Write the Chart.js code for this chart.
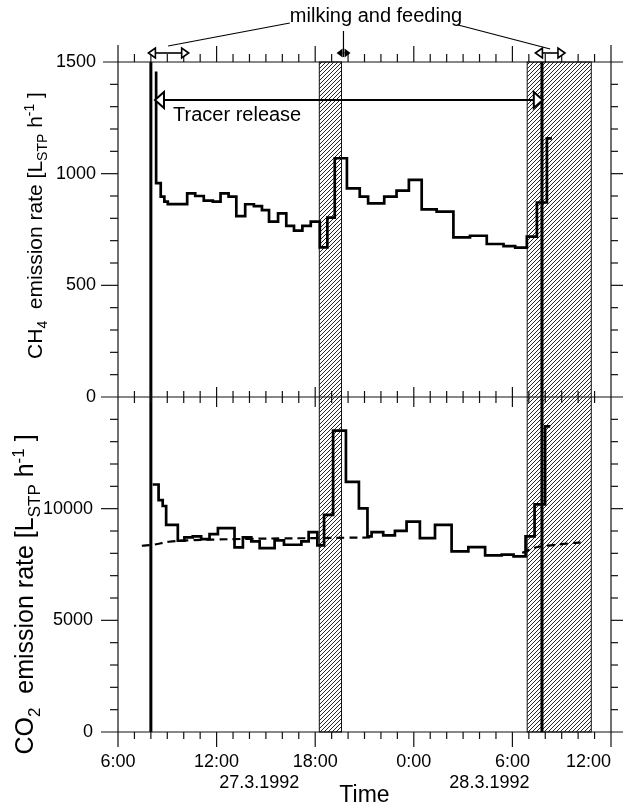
<!DOCTYPE html>
<html>
<head>
<meta charset="utf-8">
<script src="https://cdn.jsdelivr.net/npm/chart.js@4.4.1/dist/chart.umd.min.js"></script>
<style>
  html, body { margin: 0; padding: 0; background: #fff; }
</style>
</head>
<body>
<canvas id="myChart" width="626" height="809"></canvas>
<script>
// Temps en heures depuis 0:00 le 27.3.1992 (24 = minuit, 30 = 6:00 le 28.3)
const ch4Times  = [8.32, 8.32, 8.6, 8.82, 9.03, 10.21, 10.7, 11.22, 11.77, 12.24, 12.73, 13.2, 13.74, 14.27, 14.76, 15.19, 15.74, 16.24, 16.71, 17.22, 17.73, 18.28, 18.74, 19.19, 19.93, 20.71, 21.22, 22.2, 22.95, 23.7, 24.48, 25.39, 26.41, 27.42, 28.44, 29.46, 30.17, 30.88, 31.49, 32.1, 32.4];
const ch4Values = [1457, 958, 897, 875, 864, 912, 900, 879, 875, 912, 897, 810, 863, 855, 837, 785, 822, 766, 745, 766, 785, 670, 803, 1069, 934, 897, 867, 897, 924, 972, 840, 830, 715, 722, 685, 676, 669, 718, 871, 1158, 1158];

const co2Times  = [8.11, 8.47, 8.72, 8.93, 9.64, 10.04, 10.55, 11.06, 11.57, 12.08, 13.09, 13.6, 14.11, 14.62, 15.53, 16.1, 17.16, 17.6, 18.13, 18.54, 19.09, 19.87, 20.66, 21.18, 21.43, 22.14, 22.85, 23.56, 24.37, 25.29, 26.3, 27.32, 28.34, 29.35, 30.07, 30.8, 31.35, 31.99, 32.3];
const co2Values = [11081, 10385, 10119, 9274, 8563, 8711, 8756, 8637, 8859, 9126, 8267, 8711, 8533, 8237, 8578, 8385, 8533, 8948, 8356, 9719, 13496, 11200, 10015, 8756, 8948, 8800, 9007, 9422, 8681, 9274, 8089, 8281, 7911, 7941, 7867, 8756, 10193, 13689, 13689];

// courbe ajustée (tirets), null = coupure
const fitTimes  = [7.45, 8.2, 9.1, 10.5, 12, 14, 16, 18, 20, 21.5, 26, 30.6, 31.4, 32.5, 33.5, 34.4];
const fitValues = [8340, 8390, 8520, 8590, 8620, 8650, 8670, 8680, 8700, 8710, null, 8020, 8260, 8370, 8450, 8500];

// périodes hachurées, traite et alimentation, traceur
const hatchPeriods  = [[18.25, 19.6], [30.9, 34.8]];
const milkingArrows = [[7.85, 10.3], [19.3, 20.15], [31.4, 33.2]];
const milkingLabelTime = 21.7;
const tracerLines = [8.0, 31.8];
const tracerArrow = [8.25, 31.85];
const tracerLabelTime = 9.35;

// étiquettes de l'axe du temps
const timeTicks  = [6, 12, 18, 24, 30, 36];
const timeLabels = ['6:00', '12:00', '18:00', '0:00', '6:00', '12:00'];
const dateTimes  = [14.6, 28.6];
const dateLabels = ['27.3.1992', '28.3.1992'];

const FONT = '"Liberation Sans", Arial, Helvetica, sans-serif';

// motif de hachures "////"
const hachure = (() => {
    const c = document.createElement('canvas');
    c.width = 4; c.height = 4;
    const g = c.getContext('2d');
    g.strokeStyle = '#000';
    g.lineWidth = 0.85;
    g.beginPath();
    g.moveTo(-1, 5); g.lineTo(5, -1);
    g.moveTo(-1, 1); g.lineTo(1, -1);
    g.moveTo(3, 5); g.lineTo(5, 3);
    g.stroke();
    return c;
})();

function ligne(ctx, x1, y1, x2, y2) {
    ctx.beginPath();
    ctx.moveTo(x1, y1);
    ctx.lineTo(x2, y2);
    ctx.stroke();
}

// pointe de flèche triangulaire, dir = -1 vers la gauche, 1 vers la droite
function pointe(ctx, tipX, y, dir, len, half, pleine) {
    ctx.beginPath();
    ctx.moveTo(tipX, y);
    ctx.lineTo(tipX - dir * len, y - half);
    ctx.lineTo(tipX - dir * len, y + half);
    ctx.closePath();
    if (pleine) {
        ctx.fillStyle = '#000';
        ctx.fill();
    } else {
        ctx.fillStyle = '#fff';
        ctx.fill();
        ctx.stroke();
    }
}

function doubleFleche(ctx, x1, x2, y, len, half, pleine, lw) {
    ctx.lineWidth = lw;
    ligne(ctx, x1 + len, y, x2 - len, y);
    pointe(ctx, x1, y, -1, len, half, pleine);
    pointe(ctx, x2, y, 1, len, half, pleine);
}

// texte vertical avec indices / exposants
function texteVertical(ctx, parts, size, cx, cy) {
    ctx.save();
    ctx.translate(cx, cy);
    ctx.rotate(-Math.PI / 2);
    ctx.textAlign = 'left';
    ctx.textBaseline = 'alphabetic';
    let total = 0;
    parts.forEach(p => {
        ctx.font = `${p.s ? Math.round(size * 0.68) : size}px ${FONT}`;
        p.w = ctx.measureText(p.t).width;
        total += p.w;
    });
    let pos = -total / 2;
    parts.forEach(p => {
        ctx.font = `${p.s ? Math.round(size * 0.68) : size}px ${FONT}`;
        const dy = p.s === 'sub' ? size * 0.28 : p.s === 'sup' ? -size * 0.38 : 0;
        ctx.fillText(p.t, pos, size * 0.36 + dy);
        pos += p.w;
    });
    ctx.restore();
}

const cadrePlugin = {
    id: 'cadre',
    beforeDatasetsDraw(chart) {
        const {ctx, chartArea: a, scales: {x}} = chart;
        ctx.save();
        const pat = ctx.createPattern(hachure, 'repeat');
        hatchPeriods.forEach(([t0, t1]) => {
            const x0 = x.getPixelForValue(t0);
            const x1 = x.getPixelForValue(t1);
            ctx.fillStyle = pat;
            ctx.fillRect(x0, a.top, x1 - x0, a.bottom - a.top);
            ctx.strokeStyle = '#111';
            ctx.lineWidth = 1;
            ctx.strokeRect(x0, a.top, x1 - x0, a.bottom - a.top);
        });
        // début et fin du lâcher de traceur
        ctx.strokeStyle = '#000';
        ctx.lineWidth = 3;
        tracerLines.forEach(t => {
            const px = x.getPixelForValue(t);
            ligne(ctx, px, a.top, px, a.bottom);
        });
        ctx.restore();
    },
    afterDraw(chart) {
        const {ctx, chartArea: a, scales: {x, yCH4, yCO2}} = chart;
        const mid = yCH4.bottom;
        ctx.save();
        ctx.strokeStyle = '#111';
        ctx.lineWidth = 1.2;

        // cadre, axes prolongés comme dans l'original
        ligne(ctx, a.left - 15, a.top, a.right + 12, a.top);
        ligne(ctx, a.left - 17, mid, a.right + 12, mid);
        ligne(ctx, a.left - 17, a.bottom, a.right + 12, a.bottom);
        ligne(ctx, a.left, a.top - 17, a.left, a.bottom + 15);
        ligne(ctx, a.right, a.top - 17, a.right, a.bottom + 15);

        // graduations du temps (chaque heure)
        for (let h = 7; h < 36; h++) {
            const px = x.getPixelForValue(h);
            const major = h % 6 === 0;
            ligne(ctx, px, a.top, px, a.top - (major ? 16 : 8));
            ligne(ctx, px, mid - (major ? 10 : 6), px, mid + (major ? 10 : 6));
            ligne(ctx, px, a.bottom, px, a.bottom + (major ? 15 : 7));
        }
        // graduations CH4 (100) et CO2 (1000)
        for (let v = 100; v < 1500; v += 100) {
            const py = yCH4.getPixelForValue(v);
            const major = v % 500 === 0;
            ligne(ctx, a.left, py, a.left - (major ? 17 : 8), py);
            ligne(ctx, a.right, py, a.right + (major ? 12 : 7), py);
        }
        for (let v = 1000; v < 15000; v += 1000) {
            const py = yCO2.getPixelForValue(v);
            const major = v % 5000 === 0;
            ligne(ctx, a.left, py, a.left - (major ? 17 : 8), py);
            ligne(ctx, a.right, py, a.right + (major ? 12 : 7), py);
        }

        // étiquettes de l'axe du temps
        ctx.fillStyle = '#000';
        ctx.textBaseline = 'alphabetic';
        ctx.font = `18px ${FONT}`;
        timeTicks.forEach((t, i) => {
            ctx.textAlign = i === timeTicks.length - 1 ? 'right' : 'center';
            ctx.fillText(timeLabels[i], x.getPixelForValue(t), a.bottom + 35);
        });
        ctx.textAlign = 'center';
        dateTimes.forEach((t, i) => {
            ctx.fillText(dateLabels[i], x.getPixelForValue(t), a.bottom + 56);
        });

        // titres des axes y
        texteVertical(ctx, [
            {t: 'CH'}, {t: '4', s: 'sub'}, {t: '  emission rate [L'}, {t: 'STP', s: 'sub'},
            {t: ' h'}, {t: '-1', s: 'sup'}, {t: ' ]'}
        ], 21, 34, (yCH4.top + yCH4.bottom) / 2 - 4);
        texteVertical(ctx, [
            {t: 'CO'}, {t: '2', s: 'sub'}, {t: '  emission rate [L'}, {t: 'STP', s: 'sub'},
            {t: ' h'}, {t: '-1', s: 'sup'}, {t: ' ]'}
        ], 25, 24, (yCO2.top + yCO2.bottom) / 2 + 30);

        // traite et alimentation
        ctx.strokeStyle = '#000';
        const yM = a.top - 9;
        milkingArrows.forEach(([t0, t1], i) => {
            const pleine = i === 1;
            doubleFleche(ctx, x.getPixelForValue(t0), x.getPixelForValue(t1), yM,
                pleine ? 6 : 7, pleine ? 4.5 : 5, pleine, 1.6);
        });
        ctx.font = `20px ${FONT}`;
        ctx.textAlign = 'center';
        ctx.fillStyle = '#000';
        const xl = x.getPixelForValue(milkingLabelTime);
        ctx.fillText('milking and feeding', xl, a.top - 40);
        const w = ctx.measureText('milking and feeding').width;
        ctx.lineWidth = 1.2;
        ligne(ctx, xl - w / 2, a.top - 39, x.getPixelForValue(9.05), a.top - 16);
        ligne(ctx, x.getPixelForValue(19.72), a.top - 31, x.getPixelForValue(19.72), a.top - 5);
        ligne(ctx, xl + w / 2 - 4, a.top - 37, x.getPixelForValue(32.3), a.top - 13);

        // lâcher de traceur
        doubleFleche(ctx, x.getPixelForValue(tracerArrow[0]), x.getPixelForValue(tracerArrow[1]), a.top + 38, 9, 8, false, 2);
        ctx.font = `20px ${FONT}`;
        ctx.textAlign = 'left';
        ctx.fillStyle = '#000';
        ctx.fillText('Tracer release', x.getPixelForValue(tracerLabelTime), a.top + 59);
        ctx.restore();
    }
};

const points = (ts, vs) => ts.map((t, i) => ({x: t, y: vs[i]}));

const ctx = document.getElementById('myChart').getContext('2d');
const chart = new Chart(ctx, {
    type: 'line',
    data: {
        datasets: [
            {
                label: 'CH4',
                data: points(ch4Times, ch4Values),
                yAxisID: 'yCH4',
                stepped: 'before',
                borderColor: '#000',
                borderWidth: 2.7,
                pointRadius: 0,
                fill: false
            },
            {
                label: 'CO2',
                data: points(co2Times, co2Values),
                yAxisID: 'yCO2',
                stepped: 'before',
                borderColor: '#000',
                borderWidth: 2.7,
                pointRadius: 0,
                fill: false
            },
            {
                label: 'CO2 fit',
                data: points(fitTimes, fitValues),
                yAxisID: 'yCO2',
                borderColor: '#000',
                borderWidth: 2.2,
                borderDash: [8, 5],
                tension: 0.4,
                spanGaps: false,
                pointRadius: 0,
                fill: false
            }
        ]
    },
    options: {
        responsive: false,
        devicePixelRatio: 1,
        animation: false,
        layout: { padding: { top: 62, right: 15, bottom: 0, left: 0 } },
        plugins: {
            legend: { display: false },
            tooltip: { enabled: false }
        },
        scales: {
            x: {
                type: 'linear',
                min: 6,
                max: 36,
                position: 'bottom',
                ticks: { display: false, stepSize: 6 },
                grid: { display: false, drawTicks: false },
                border: { display: false },
                title: { display: true, text: 'Time', color: '#000', font: { family: FONT, size: 23 }, padding: 0 },
                afterFit: s => { s.height = 77; }
            },
            yCO2: {
                type: 'linear',
                position: 'left',
                stack: 'panneaux',
                stackWeight: 1,
                min: 0,
                max: 15000,
                ticks: { stepSize: 5000, padding: 25, color: '#000', font: { family: FONT, size: 18 },
                         callback: v => v >= 15000 ? '' : `${v}` },
                grid: { display: false, drawTicks: false },
                border: { display: false },
                afterFit: s => { s.width = 118; }
            },
            yCH4: {
                type: 'linear',
                position: 'left',
                stack: 'panneaux',
                stackWeight: 1,
                min: 0,
                max: 1500,
                ticks: { stepSize: 500, padding: 22, color: '#000', font: { family: FONT, size: 18 },
                         callback: v => `${v}` },
                grid: { display: false, drawTicks: false },
                border: { display: false },
                afterFit: s => { s.width = 118; }
            }
        }
    },
    plugins: [cadrePlugin]
});
</script>
</body>
</html>
